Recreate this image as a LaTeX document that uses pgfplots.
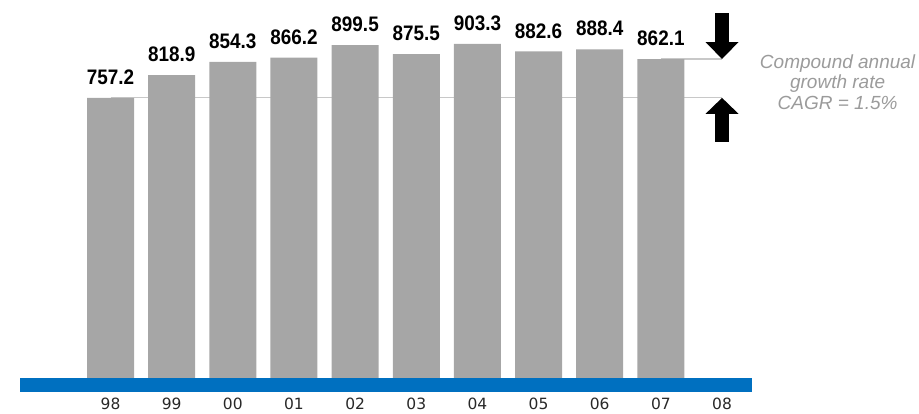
\documentclass[border=0pt]{standalone}
\usepackage{pgfplots}
\pgfplotsset{compat=1.18}
\usepackage{fontspec}
\setmainfont{Liberation Sans}
\newfontfamily\valfont[FakeStretch=0.9]{Liberation Sans}
\newfontfamily\tickfont{DejaVu Sans}
\usetikzlibrary{arrows.meta}
\definecolor{barGray}{RGB}{166,166,166}
\definecolor{lineGray}{RGB}{200,200,200}
\definecolor{blueBar}{RGB}{0,112,192}
\definecolor{txtGray}{RGB}{155,155,155}
\definecolor{tickTxt}{RGB}{40,40,40}
\begin{document}
\begin{tikzpicture}
\useasboundingbox (0,0) rectangle (919pt,413pt);
\begin{axis}[
  at={(20pt,35pt)}, anchor=south west,
  scale only axis, width=732pt, height=370pt,
  xmin=-1.48, xmax=10.49, ymin=0, ymax=1000,
  /pgf/number format/assume math mode=true,
  axis line style={draw=none}, tick style={draw=none},
  ytick=\empty,
  xtick={0,1,2,3,4,5,6,7,8,9,10},
  xticklabels={98,99,00,01,02,03,04,05,06,07,08},
  xticklabel style={anchor=base, yshift=-31pt, font=\tickfont\fontsize{15.5}{18}\selectfont, text=tickTxt},
  clip=false,
]
% reference lines
\draw[lineGray, line width=1.2pt] (axis cs:0,757.2) -- (axis cs:10,757.2);
\draw[lineGray, line width=1.2pt] (axis cs:9,862.1) -- (axis cs:10,862.1);
\addplot[ybar, bar width=47pt, fill=barGray, draw=none,
  nodes near coords,
  nodes near coords style={font=\valfont\fontsize{21}{24}\selectfont\bfseries, text=black, anchor=south, inner sep=0pt, yshift=13pt},
  point meta=explicit symbolic]
  coordinates {
  (0,757.2) [757.2]
  (1,818.9) [818.9]
  (2,854.3) [854.3]
  (3,866.2) [866.2]
  (4,899.5) [899.5]
  (5,875.5) [875.5]
  (6,903.3) [903.3]
  (7,882.6) [882.6]
  (8,888.4) [888.4]
  (9,862.1) [862.1]
  };
% blue baseline band
\fill[blueBar] (axis cs:-1.48,0) rectangle (axis cs:10.49,-37.8);
% arrows
\draw[line width=14pt, -{Triangle[width=32pt,length=17pt]}] (axis cs:10,986) -- (axis cs:10,862.1);
\draw[line width=14pt, -{Triangle[width=32pt,length=16pt]}] (axis cs:10,638) -- (axis cs:10,757.2);
\node[align=center, text=txtGray, font=\fontsize{19}{20.5}\selectfont\itshape] at (axis cs:11.89,800) {Compound annual\\growth rate\\CAGR = 1.5\%};
\end{axis}
\end{tikzpicture}
\end{document}
